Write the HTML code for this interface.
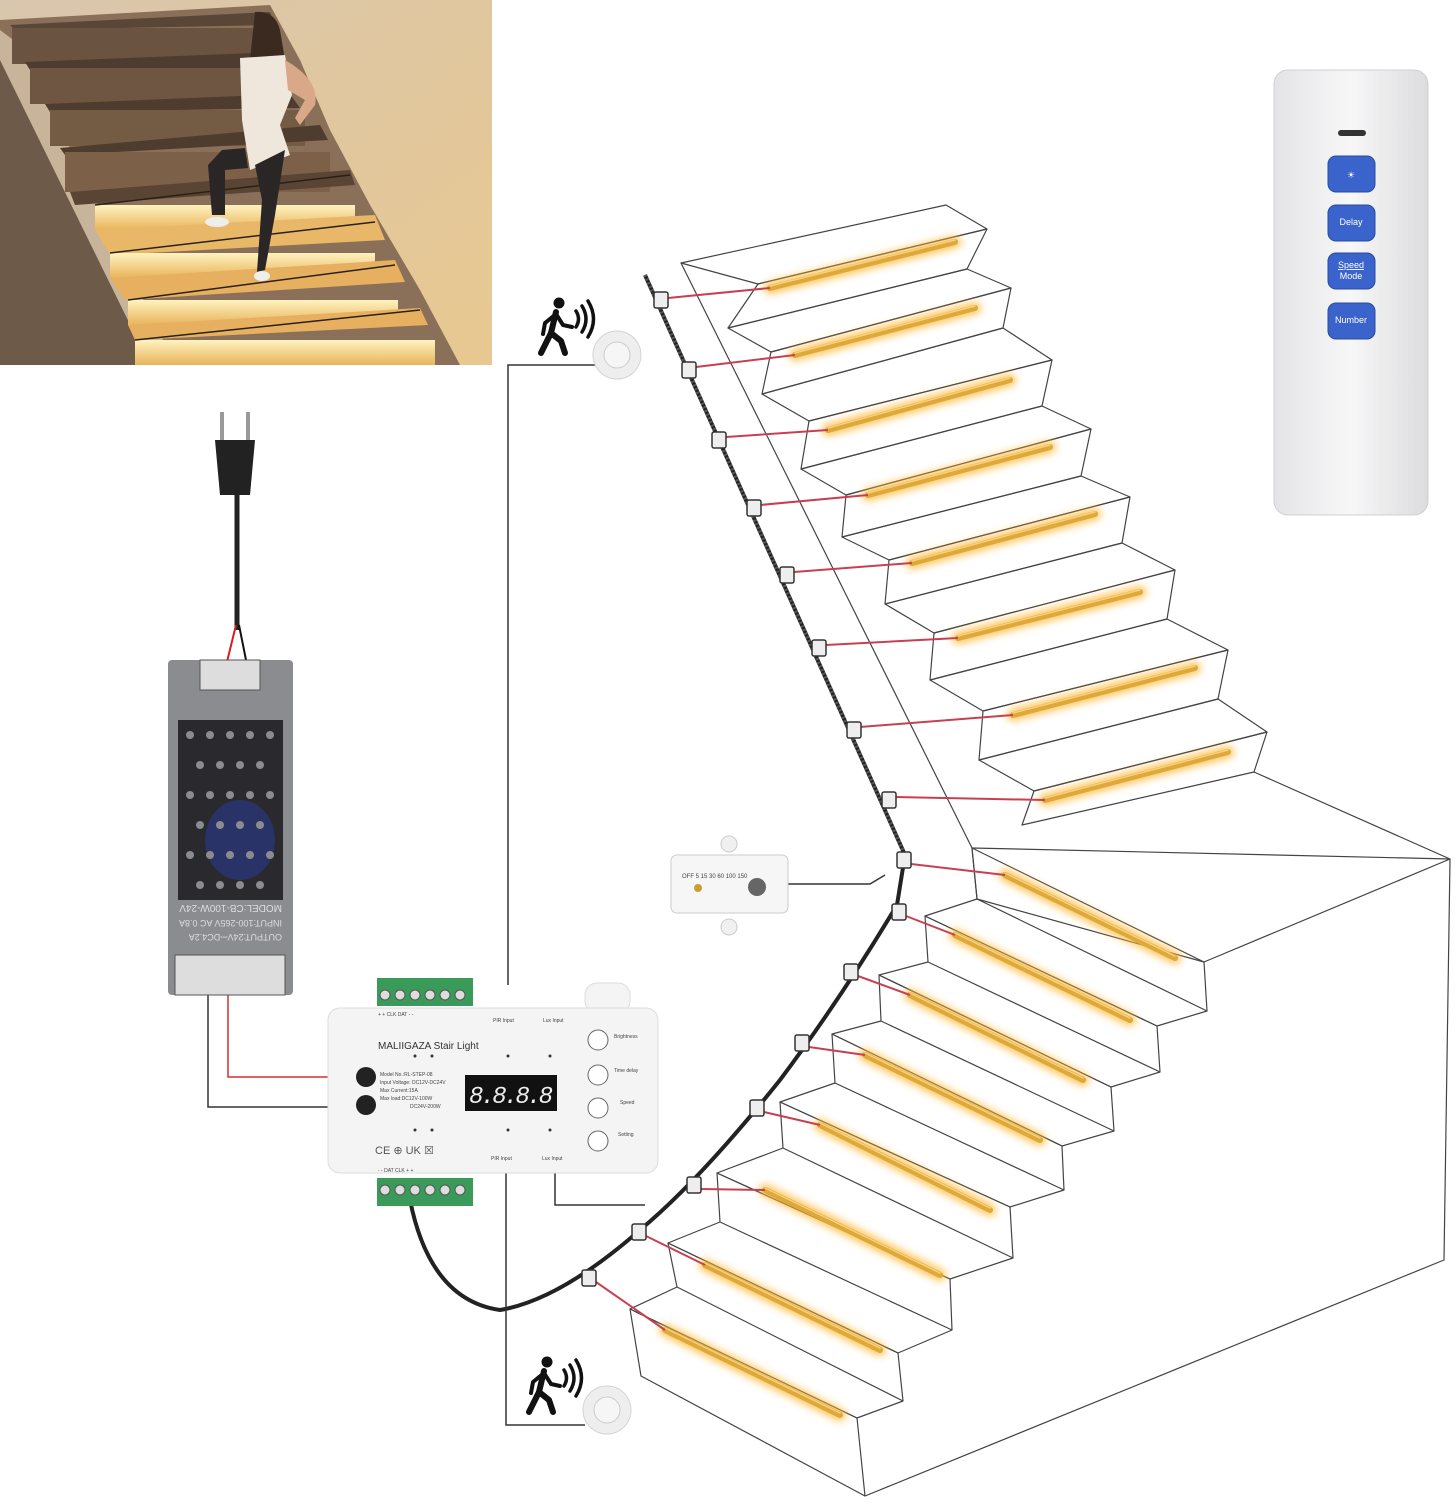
<!DOCTYPE html>
<html><head><meta charset="utf-8"><style>
body{margin:0;background:#fff;width:1456px;height:1500px;overflow:hidden;font-family:"Liberation Sans",sans-serif}
</style></head><body>
<svg width="1456" height="1500" viewBox="0 0 1456 1500" xmlns="http://www.w3.org/2000/svg">
<defs>
<linearGradient id="rm" x1="0" x2="1"><stop offset="0" stop-color="#e4e4e6"/><stop offset="0.5" stop-color="#f7f7f8"/><stop offset="1" stop-color="#dcdcde"/></linearGradient>
<linearGradient id="wall" x1="0" x2="1" y1="0" y2="1"><stop offset="0" stop-color="#d9c6ae"/><stop offset="1" stop-color="#e8c890"/></linearGradient>
<linearGradient id="lit" x1="0" y1="0" x2="0" y2="1"><stop offset="0" stop-color="#fff2c0"/><stop offset="1" stop-color="#e8b45a"/></linearGradient>
<filter id="gl" x="-20%" y="-50%" width="140%" height="200%"><feGaussianBlur stdDeviation="4"/></filter>
<filter id="bl"><feGaussianBlur stdDeviation="1.2"/></filter>
<g id="walker" stroke="#111" stroke-linecap="round" stroke-linejoin="round" fill="none">
<circle cx="0" cy="0" r="5.5" fill="#111" stroke="none"/>
<path d="M-3 9 L-8 30 L-18 50" stroke-width="6"/>
<path d="M-8 30 L2 38 L6 50" stroke-width="6"/>
<path d="M-3 11 L-14 20 L-16 31" stroke-width="4"/>
<path d="M-3 11 L4 22 L13 24" stroke-width="4"/>
<path d="M17 8 Q22 16 17 24" stroke-width="3.5"/>
<path d="M23 3 Q31 16 23 29" stroke-width="3.5"/>
<path d="M29 -2 Q40 16 29 34" stroke-width="3.5"/>
</g>
</defs>
<!-- photo -->
<g>
<rect x="0" y="0" width="492" height="365" fill="url(#wall)"/>
<polygon points="0,20 270,5 300,60 330,130 370,205 420,290 460,365 0,365" fill="#8a7058"/>
<polygon points="0,60 150,365 0,365" fill="#6e5a48"/>
<polygon points="0,30 0,60 150,365 175,365 20,45" fill="#c8b49a"/>
<g>
<polygon points="10,25 270,12 275,25 15,30" fill="#5a4636"/>
<rect x="12" y="28" width="262" height="36" fill="#6a5340"/>
<polygon points="25,62 280,52 288,68 30,70" fill="#4e3c2e"/>
<rect x="30" y="68" width="255" height="36" fill="#6e5642"/>
<polygon points="45,104 290,94 300,108 50,112" fill="#4e3c2e"/>
<rect x="50" y="110" width="255" height="36" fill="#745b44"/>
<polygon points="60,148 320,125 328,140 65,155" fill="#4e3c2e"/>
<rect x="65" y="152" width="265" height="40" fill="#7c6048"/>
<polygon points="70,192 350,170 355,185 75,205" fill="#5a4434"/>
<rect x="95" y="205" width="260" height="25" fill="url(#lit)"/>
<polygon points="95,230 375,215 385,240 110,255" fill="#e8b868"/>
<rect x="110" y="253" width="265" height="25" fill="url(#lit)"/>
<polygon points="110,278 395,260 405,282 125,300" fill="#e6b060"/>
<rect x="128" y="300" width="270" height="25" fill="url(#lit)"/>
<polygon points="128,325 420,308 428,325 135,340" fill="#e6b060"/>
<rect x="135" y="340" width="300" height="25" fill="url(#lit)"/>
<g stroke="#2a2018" stroke-width="1.5"><path d="M95 205 L350 175 M110 253 L375 222 M128 300 L395 265 M135 340 L420 310"/></g>
</g>
<!-- woman -->
<path d="M255 12 Q275 10 280 30 L285 60 L260 95 L250 60 Z" fill="#3a2a20"/>
<path d="M240 58 L285 55 L292 95 L280 125 L290 155 L250 170 L242 120 Z" fill="#efe6dc"/>
<path d="M285 60 Q320 80 315 105 L300 125 L295 118 L305 100 L288 90 Z" fill="#d8a888"/>
<path d="M245 148 L222 150 L208 165 L212 215 L225 215 L225 170 L248 168 Z" fill="#2b2626"/>
<path d="M255 165 L285 150 L275 215 L265 270 L257 272 L262 200 Z" fill="#2b2626"/>
<ellipse cx="217" cy="222" rx="12" ry="5" fill="#eee"/><ellipse cx="262" cy="276" rx="8" ry="5" fill="#eee"/>
</g>
<!-- remote -->
<rect x="1274" y="70" width="154" height="445" rx="14" fill="url(#rm)" stroke="#d0d0d4"/>
<rect x="1338" y="130" width="28" height="6" rx="3" fill="#333"/>
<g fill="#3a64cc" stroke="#2a4aa0">
<rect x="1328" y="156" width="47" height="36" rx="8"/><rect x="1328" y="205" width="47" height="36" rx="8"/><rect x="1328" y="253" width="47" height="36" rx="8"/><rect x="1328" y="303" width="47" height="36" rx="8"/></g>
<g fill="#fff" font-size="9" text-anchor="middle"><text x="1351" y="178">☀</text><text x="1351" y="225">Delay</text><text x="1351" y="268" text-decoration="underline">Speed</text><text x="1351" y="279">Mode</text><text x="1351" y="323">Number</text></g>
<!-- upper flight -->
<g fill="none" stroke="#444" stroke-width="1.2" stroke-linejoin="round">
<polygon points="681,263 946,205 987,229 758,284"/>
<polygon points="758,284 987,229 967,269 728,328"/>
<polygon points="728,328 967,269 1011,288 771,352"/>
<polygon points="771,352 1011,288 1003,328 762,394"/>
<polygon points="762,394 1003,328 1052,360 809,421"/>
<polygon points="809,421 1052,360 1042,406 801,469"/>
<polygon points="801,469 1042,406 1091,429 846,495"/>
<polygon points="846,495 1091,429 1081,476 842,537"/>
<polygon points="842,537 1081,476 1130,497 889,560"/>
<polygon points="889,560 1130,497 1122,543 885,604"/>
<polygon points="885,604 1122,543 1175,570 934,633"/>
<polygon points="934,633 1175,570 1167,619 930,680"/>
<polygon points="930,680 1167,619 1228,650 983,711"/>
<polygon points="983,711 1228,650 1218,699 979,760"/>
<polygon points="979,760 1218,699 1267,732 1034,791"/>
<polygon points="1034,791 1267,732 1254,772 1022,825"/>
<path d="M1254 772 L1450 859"/>
<path d="M681 263 L972 848"/>
<!-- lower flight -->
<polygon points="972,848 1450,859 1204,962 977,899" />
<polygon points="972,848 1204,962 1207,1011 977,899"/>
<path d="M977 899 L925 916 L1157 1026 L1207 1011"/>
<polygon points="925,916 1157,1026 1160,1072 928,962"/>
<path d="M928 962 L879 975 L1111 1087 L1160 1072"/>
<polygon points="879,975 1111,1087 1114,1131 881,1021"/>
<path d="M881 1021 L832 1034 L1062 1146 L1114 1131"/>
<polygon points="832,1034 1062,1146 1064,1190 835,1083"/>
<path d="M835 1083 L780 1102 L1010 1207 L1064 1190"/>
<polygon points="780,1102 1010,1207 1013,1258 783,1148"/>
<path d="M783 1148 L717 1173 L950 1279 L1013 1258"/>
<polygon points="717,1173 950,1279 952,1330 720,1222"/>
<path d="M720 1222 L668 1243 L898 1353 L952 1330"/>
<polygon points="668,1243 898,1353 903,1401 677,1287"/>
<path d="M677 1287 L630 1309 L857 1418 L903 1401"/>
<polygon points="630,1309 857,1418 865,1496 641,1376"/>
<path d="M1450 859 L1444 1260 L865 1496"/>
</g>
<!-- LED strips -->
<g stroke-linecap="round">
<g stroke="#ffb733" stroke-width="12" filter="url(#gl)" opacity="0.8">
<path d="M770 288L955 242M795 355L975 308M828 430L1010 380M868 495L1050 447M912 563L1095 514M958 638L1140 592M1013 715L1195 668M1045 800L1228 752M1005 875L1175 958M955 935L1130 1020M910 995L1083 1080M865 1055L1040 1140M820 1125L990 1210M765 1190L940 1275M705 1265L880 1350M665 1330L840 1415"/></g>
<g stroke="#dfa83a" stroke-width="6">
<path d="M770 288L955 242M795 355L975 308M828 430L1010 380M868 495L1050 447M912 563L1095 514M958 638L1140 592M1013 715L1195 668M1045 800L1228 752M1005 875L1175 958M955 935L1130 1020M910 995L1083 1080M865 1055L1040 1140M820 1125L990 1210M765 1190L940 1275M705 1265L880 1350M665 1330L840 1415"/></g>
<g stroke="#f6d27a" stroke-width="1.5">
<path d="M770 286L955 240M795 353L975 306M828 428L1010 378M868 493L1050 445M912 561L1095 512M958 636L1140 590M1013 713L1195 666M1045 798L1228 750M1005 873L1175 956M955 933L1130 1018M910 993L1083 1078M865 1053L1040 1138M820 1123L990 1208M765 1188L940 1273M705 1263L880 1348M665 1328L840 1413"/></g>
</g>
<!-- red wires -->
<g stroke="#c84050" stroke-width="2" fill="none">
<path d="M668 298L770 288M696 367L795 355M726 437L828 430M760 505L868 495M794 572L912 563M826 645L958 638M860 727L1013 715M895 797L1045 800M911 864L1005 875M906 916L955 935M858 976L910 995M809 1047L865 1055M764 1112L820 1125M701 1189L765 1190M646 1236L705 1265M596 1282L665 1330"/></g>
<!-- main cable -->
<path d="M645 275 L905 855 L897 905 Q840 1000 780 1080 Q700 1180 640 1230 Q560 1300 500 1310 Q430 1300 410 1200" stroke="#222" stroke-width="4" fill="none"/>
<path d="M645 275 L905 855" stroke="#555" stroke-width="4" stroke-dasharray="2 2" fill="none"/>
<g fill="#eee" stroke="#333" stroke-width="1.5">
<rect x="654" y="292" width="14" height="16" rx="2"/><rect x="682" y="362" width="14" height="16" rx="2"/><rect x="712" y="432" width="14" height="16" rx="2"/><rect x="747" y="500" width="14" height="16" rx="2"/><rect x="780" y="567" width="14" height="16" rx="2"/><rect x="812" y="640" width="14" height="16" rx="2"/><rect x="847" y="722" width="14" height="16" rx="2"/><rect x="882" y="792" width="14" height="16" rx="2"/><rect x="897" y="852" width="14" height="16" rx="2"/><rect x="892" y="904" width="14" height="16" rx="2"/><rect x="844" y="964" width="14" height="16" rx="2"/><rect x="795" y="1035" width="14" height="16" rx="2"/><rect x="750" y="1100" width="14" height="16" rx="2"/><rect x="687" y="1177" width="14" height="16" rx="2"/><rect x="632" y="1224" width="14" height="16" rx="2"/><rect x="582" y="1270" width="14" height="16" rx="2"/></g>
<!-- signal lines -->
<g stroke="#333" stroke-width="1.5" fill="none">
<path d="M508 985 V365 H595"/><path d="M506 1170 V1425 H585"/><path d="M555 1170 V1205 H645"/>
<path d="M788 884 H870 L885 875"/>
<path d="M208 995 V1107 H330"/></g>
<path d="M228 995 V1077 H330" stroke="#d03030" stroke-width="1.5" fill="none"/>
<!-- PIR sensors -->
<circle cx="617" cy="355" r="24" fill="#eee" stroke="#d4d4d4"/><circle cx="617" cy="355" r="13" fill="#f6f6f6" stroke="#ccc"/>
<circle cx="607" cy="1410" r="24" fill="#eee" stroke="#d4d4d4"/><circle cx="607" cy="1410" r="13" fill="#f6f6f6" stroke="#ccc"/>
<use href="#walker" transform="translate(559,303)"/>
<use href="#walker" transform="translate(547,1362)"/>
<!-- lux sensor -->
<rect x="671" y="855" width="117" height="58" rx="6" fill="#f6f6f6" stroke="#ccc"/>
<circle cx="729" cy="844" r="8" fill="#f0f0f0" stroke="#ccc"/><circle cx="729" cy="927" r="8" fill="#f0f0f0" stroke="#ccc"/>
<text x="682" y="878" font-size="6" fill="#444">OFF 5 15 30 60 100 150</text>
<circle cx="698" cy="888" r="4" fill="#c9a030"/><circle cx="757" cy="887" r="9" fill="#666"/>
<!-- plug -->
<rect x="220" y="412" width="4" height="30" fill="#999"/><rect x="246" y="412" width="4" height="30" fill="#999"/>
<path d="M215 440 H255 L250 495 H220 Z" fill="#222"/>
<path d="M237 495 V630" stroke="#222" stroke-width="5"/>
<path d="M236 625 L225 670" stroke="#d02020" stroke-width="2"/><path d="M239 625 L248 670" stroke="#111" stroke-width="2"/>
<!-- PSU -->
<rect x="168" y="660" width="125" height="335" rx="4" fill="#8a8c90"/>
<rect x="200" y="660" width="60" height="30" fill="#ddd" stroke="#555"/>
<rect x="175" y="955" width="110" height="40" fill="#ddd" stroke="#555"/>
<rect x="178" y="720" width="105" height="180" fill="#2a2a2e"/>
<ellipse cx="240" cy="840" rx="35" ry="40" fill="#2a3a90" opacity="0.6"/>
<g fill="#8a8c90">
<circle cx="190" cy="735" r="4"/><circle cx="210" cy="735" r="4"/><circle cx="230" cy="735" r="4"/><circle cx="250" cy="735" r="4"/><circle cx="270" cy="735" r="4"/>
<circle cx="200" cy="765" r="4"/><circle cx="220" cy="765" r="4"/><circle cx="240" cy="765" r="4"/><circle cx="260" cy="765" r="4"/>
<circle cx="190" cy="795" r="4"/><circle cx="210" cy="795" r="4"/><circle cx="230" cy="795" r="4"/><circle cx="250" cy="795" r="4"/><circle cx="270" cy="795" r="4"/>
<circle cx="200" cy="825" r="4"/><circle cx="220" cy="825" r="4"/><circle cx="240" cy="825" r="4"/><circle cx="260" cy="825" r="4"/>
<circle cx="190" cy="855" r="4"/><circle cx="210" cy="855" r="4"/><circle cx="230" cy="855" r="4"/><circle cx="250" cy="855" r="4"/><circle cx="270" cy="855" r="4"/>
<circle cx="200" cy="885" r="4"/><circle cx="220" cy="885" r="4"/><circle cx="240" cy="885" r="4"/><circle cx="260" cy="885" r="4"/></g>
<text transform="translate(282,905) rotate(180)" font-size="10" fill="#ddd">MODEL:CB-100W-24V</text>
<text transform="translate(282,920) rotate(180)" font-size="9" fill="#ddd">INPUT:100-265V AC 0.8A</text>
<text transform="translate(282,934) rotate(180)" font-size="9" fill="#ddd">OUTPUT:24V⎓DC4.2A</text>
<!-- controller -->
<rect x="585" y="983" width="45" height="30" rx="12" fill="#f4f4f4" stroke="#ddd"/>
<rect x="328" y="1008" width="330" height="165" rx="12" fill="#f4f4f4" stroke="#ddd"/>
<rect x="377" y="978" width="96" height="28" fill="#3a9a5a"/><rect x="377" y="1178" width="96" height="28" fill="#3a9a5a"/>
<g fill="#ddd" stroke="#555"><circle cx="385" cy="995" r="5"/><circle cx="400" cy="995" r="5"/><circle cx="415" cy="995" r="5"/><circle cx="430" cy="995" r="5"/><circle cx="445" cy="995" r="5"/><circle cx="460" cy="995" r="5"/>
<circle cx="385" cy="1190" r="5"/><circle cx="400" cy="1190" r="5"/><circle cx="415" cy="1190" r="5"/><circle cx="430" cy="1190" r="5"/><circle cx="445" cy="1190" r="5"/><circle cx="460" cy="1190" r="5"/></g>
<text x="378" y="1049" font-size="10" fill="#333">MALIIGAZA Stair Light</text>
<rect x="465" y="1075" width="92" height="36" fill="#111"/>
<text x="469" y="1103" font-size="24" fill="#eee" font-family="Liberation Mono" font-style="italic" textLength="84">8.8.8.8</text>
<circle cx="366" cy="1077" r="10" fill="#222"/><circle cx="366" cy="1105" r="10" fill="#222"/>
<g font-size="5" fill="#444"><text x="380" y="1076">Model No.:RL-STEP-08</text><text x="380" y="1084">Input Voltage: DC12V-DC24V</text><text x="380" y="1092">Max Current:15A</text><text x="380" y="1100">Max load:DC12V-100W</text><text x="410" y="1108">DC24V-200W</text>
<text x="378" y="1016">+  +  CLK DAT  -  -</text><text x="378" y="1172">-  -  DAT CLK  +  +</text>
<text x="493" y="1022">PIR Input</text><text x="543" y="1022">Lux Input</text><text x="491" y="1160">PIR Input</text><text x="542" y="1160">Lux Input</text>
<text x="614" y="1038">Brightness</text><text x="614" y="1072">Time delay</text><text x="620" y="1104">Speed</text><text x="618" y="1136">Setting</text></g>
<g fill="#333"><circle cx="415" cy="1056" r="1.5"/><circle cx="432" cy="1056" r="1.5"/><circle cx="508" cy="1056" r="1.5"/><circle cx="550" cy="1056" r="1.5"/><circle cx="415" cy="1130" r="1.5"/><circle cx="432" cy="1130" r="1.5"/><circle cx="508" cy="1130" r="1.5"/><circle cx="550" cy="1130" r="1.5"/></g>
<text x="375" y="1154" font-size="11" fill="#555">CE ⊕ UK ☒</text>
<g fill="#fff" stroke="#666"><circle cx="598" cy="1040" r="10"/><circle cx="598" cy="1075" r="10"/><circle cx="598" cy="1108" r="10"/><circle cx="598" cy="1141" r="10"/></g>
</svg>
</body></html>
